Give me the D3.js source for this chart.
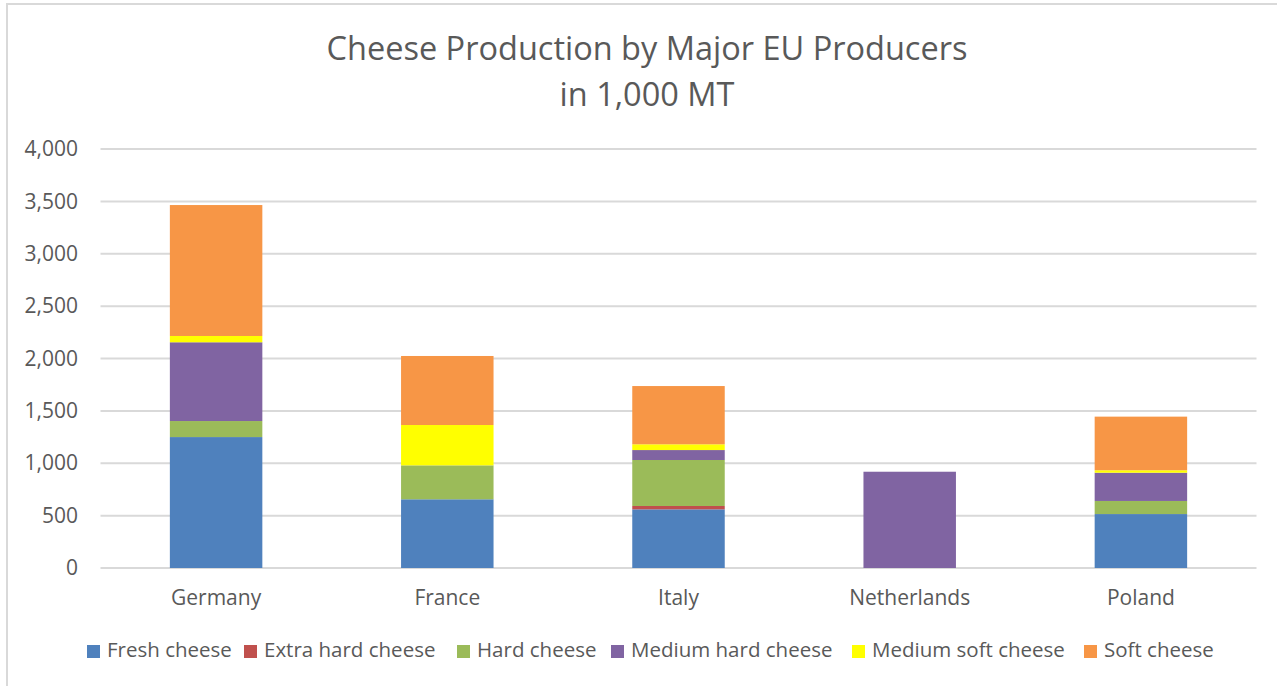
<!DOCTYPE html>
<html>
<head>
<meta charset="utf-8">
<script src="https://cdn.jsdelivr.net/npm/d3@7"></script>
<style>
  html, body { margin: 0; padding: 0; background: #fff; }
  svg { display: block; font-family: "Open Sans", "Noto Sans", sans-serif; }
</style>
</head>
<body>
<svg id="chart" width="1277" height="686"></svg>
<script>
// Cheese production (1,000 MT) by country and cheese type
const countries = ["Germany", "France", "Italy", "Netherlands", "Poland"];
const cheeseTypes = ["Fresh cheese", "Extra hard cheese", "Hard cheese", "Medium hard cheese", "Medium soft cheese", "Soft cheese"];
const freshCheese      = [1250, 656, 560,   0, 515];
const extraHardCheese  = [   0,   0,  32,   0,   0];
const hardCheese       = [ 153, 324, 439,   0, 125];
const mediumHardCheese = [ 752,   0,  95, 919, 270];
const mediumSoftCheese = [  60, 385,  55,   0,  23];
const softCheese       = [1250, 659, 556,   0, 512];
const typeColors = ["#4F81BD", "#C0504D", "#9BBB59", "#8064A2", "#FFFF00", "#F79646"];
const yTicks = [0, 500, 1000, 1500, 2000, 2500, 3000, 3500, 4000];
const titleLines = ["Cheese Production by Major EU Producers", "in 1,000 MT"];

const seriesValues = [freshCheese, extraHardCheese, hardCheese, mediumHardCheese, mediumSoftCheese, softCheese];
const rows = countries.map((c, i) => {
  const r = { country: c };
  cheeseTypes.forEach((t, j) => { r[t] = seriesValues[j][i]; });
  return r;
});
const stacked = d3.stack().keys(cheeseTypes)(rows);

const svg = d3.select("#chart");
const textColor = "#595959";
const gridColor = "#d9d9d9";

// chart area frame
svg.append("rect")
  .attr("x", 7).attr("y", 4).attr("width", 1290).attr("height", 700)
  .attr("fill", "none").attr("stroke", gridColor).attr("stroke-width", 2);

const plot = { left: 100.5, right: 1256.5, top: 149, bottom: 568 };

const x = d3.scaleBand().domain(countries).range([plot.left, plot.right]).paddingInner(0.6).paddingOuter(0.3);
const y = d3.scaleLinear().domain([0, 4000]).range([plot.bottom, plot.top]);
const color = d3.scaleOrdinal().domain(cheeseTypes).range(typeColors);

// horizontal gridlines
svg.append("g")
  .selectAll("line").data(yTicks).join("line")
  .attr("x1", plot.left).attr("x2", plot.right)
  .attr("y1", d => y(d)).attr("y2", d => y(d))
  .attr("stroke", gridColor).attr("stroke-width", 2);

// y-axis labels
const yAxis = d3.axisLeft(y).tickValues(yTicks).tickFormat(d3.format(",")).tickSize(0).tickPadding(0);
const yg = svg.append("g").attr("transform", "translate(78,0)").call(yAxis);
yg.select(".domain").remove();
yg.selectAll("text").attr("fill", textColor).attr("font-size", 21).attr("font-family", "Open Sans, sans-serif");

// stacked bars
svg.append("g")
  .selectAll("g").data(stacked).join("g")
  .attr("fill", d => color(d.key))
  .selectAll("rect").data(d => d).join("rect")
  .attr("x", d => x(d.data.country))
  .attr("width", x.bandwidth())
  .attr("y", d => y(d[1]))
  .attr("height", d => y(d[0]) - y(d[1]));

// x-axis labels
const xAxis = d3.axisBottom(x).tickSize(0).tickPadding(0);
const xg = svg.append("g").attr("transform", "translate(0,599)").call(xAxis);
xg.select(".domain").remove();
xg.selectAll("text").attr("fill", textColor).attr("font-size", 21).attr("font-family", "Open Sans, sans-serif").attr("dy", 0).attr("y", 0).attr("dominant-baseline", "middle");

// title
svg.append("g").selectAll("text").data(titleLines).join("text")
  .attr("x", 647).attr("y", (d, i) => 60 + i * 46)
  .attr("text-anchor", "middle")
  .attr("fill", textColor).attr("font-size", 32.5)
  .text(d => d);

// legend
const legendX = [87, 244, 457, 611, 852, 1084];
const legend = svg.append("g").selectAll("g").data(cheeseTypes).join("g")
  .attr("transform", (d, i) => `translate(${legendX[i]},645)`);
legend.append("rect").attr("width", 13).attr("height", 13).attr("fill", d => color(d));
legend.append("text").attr("x", 20).attr("y", 7).attr("dominant-baseline", "middle")
  .attr("fill", textColor).attr("font-size", 20.5).text(d => d);
</script>
</body>
</html>
